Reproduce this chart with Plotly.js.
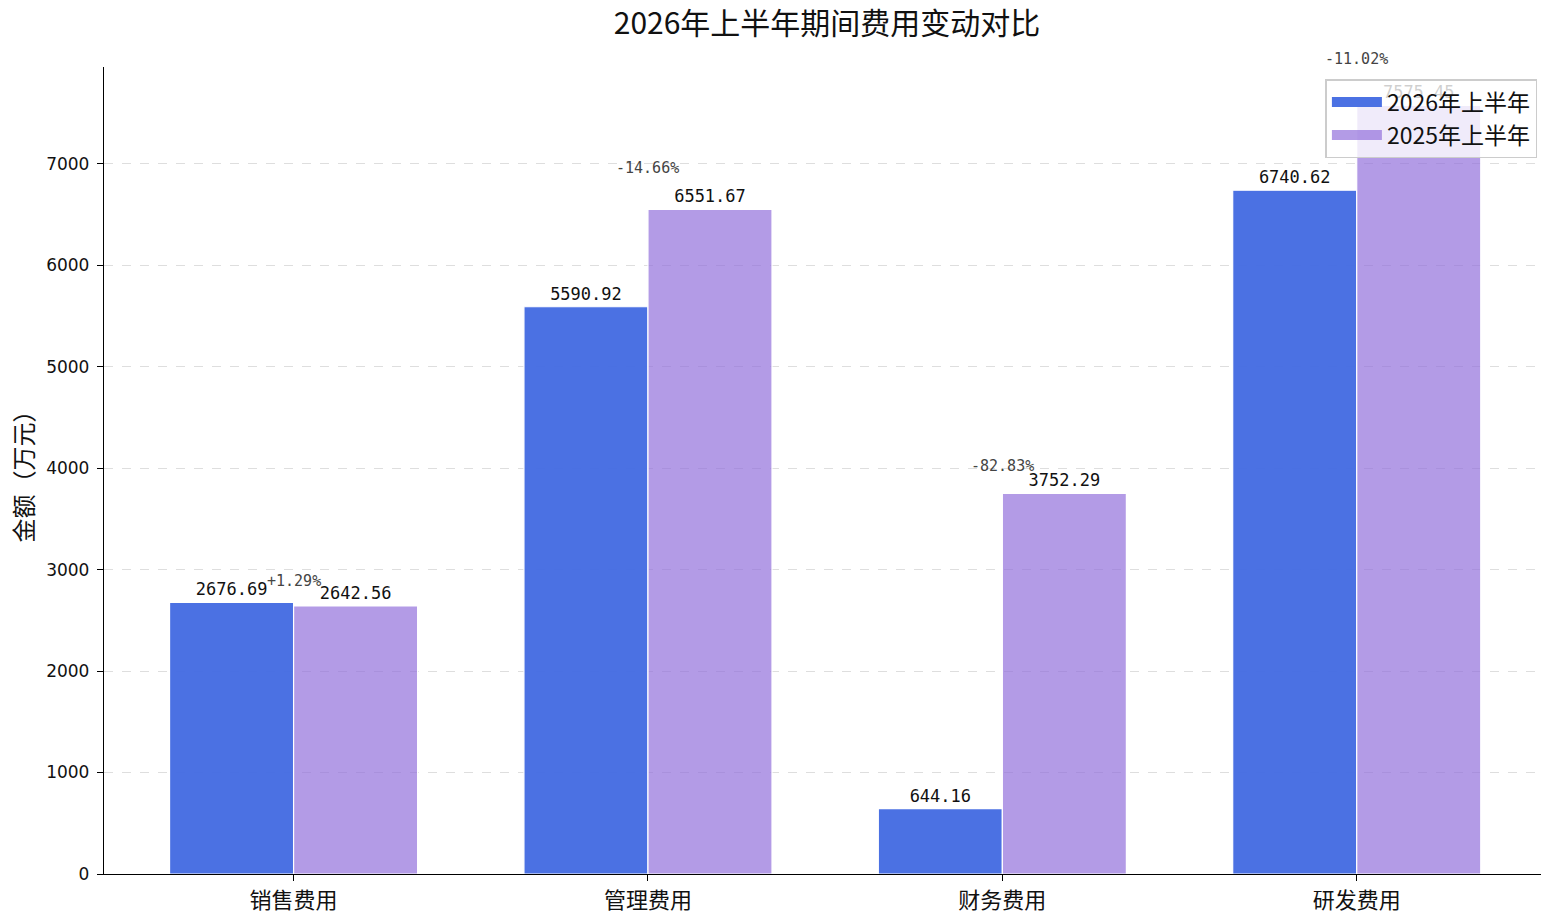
<!DOCTYPE html>
<html>
<head>
<meta charset="utf-8">
<script src="https://cdn.plot.ly/plotly-3.0.1.min.js"></script>
<style>
  html, body { margin: 0; padding: 0; background: #fff; }
  #plot { width: 1543px; height: 921px; }
</style>
</head>
<body>
<div id="plot"></div>
<script>
// categories and values (万元)
var categories = ["销售费用", "管理费用", "财务费用", "研发费用"];
var h1_2026 = [2676.69, 5590.92, 644.16, 6740.62];
var h1_2025 = [2642.56, 6551.67, 3752.29, 7575.45];
var seriesNames = ["2026年上半年", "2025年上半年"];
var colors = ["rgba(65,105,225,0.95)", "rgba(147,112,219,0.7)"];

var cjk = '"Noto Sans CJK SC", "DejaVu Sans", sans-serif';
var num = '"DejaVu Sans", sans-serif';
var mono = '"DejaVu Sans Mono", "Liberation Mono", monospace';

var xs = categories.map((c, i) => i);

function barTrace(vals, i) {
    return {
        x: xs,
        y: vals,
        name: seriesNames[i],
        type: "bar",
        showlegend: false,
        marker: {color: colors[i], line: {color: "white", width: 1.2}},
        text: vals.map(v => v.toFixed(2)),
        textposition: "outside",
        cliponaxis: false,
        constraintext: "none",
        textfont: {family: mono, size: 17, color: "#111"},
        hoverinfo: "skip"
    };
}

// legend entries drawn as wide patches
function legendTrace(i) {
    return {
        x: [null],
        y: [null],
        name: seriesNames[i],
        type: "scatter",
        mode: "lines",
        line: {color: colors[i], width: 15},
        hoverinfo: "skip"
    };
}

var traces = [barTrace(h1_2026, 0), barTrace(h1_2025, 1), legendTrace(0), legendTrace(1)];

// change labels above each pair
var ymax = Math.max(...h1_2025, ...h1_2026) * 1.05;
var annotations = categories.map((c, i) => {
    var pct = (h1_2026[i] - h1_2025[i]) / h1_2025[i] * 100;
    var top = Math.max(h1_2026[i], h1_2025[i]);
    return {
        x: i,
        y: top * 1.05,
        xref: "x",
        yref: "y",
        text: (pct >= 0 ? "+" : "") + pct.toFixed(2) + "%",
        showarrow: false,
        yanchor: "bottom",
        yshift: -3,
        font: {family: mono, size: 15, color: "#444"}
    };
});

var layout = {
    width: 1543,
    height: 921,
    margin: {l: 104, r: 2, t: 67, b: 47},
    paper_bgcolor: "white",
    plot_bgcolor: "white",
    barmode: "group",
    bargap: 0.3,
    bargroupgap: 0,
    title: {
        text: "2026年上半年期间费用变动对比",
        font: {family: cjk, size: 30, color: "#111"},
        x: 0.536,
        xanchor: "center",
        y: 0.974,
        yanchor: "middle"
    },
    xaxis: {
        range: [-0.535, 3.52],
        tickvals: xs,
        ticktext: categories,
        tickfont: {family: cjk, size: 22, color: "#111"},
        ticks: "outside",
        ticklen: 6,
        tickcolor: "black",
        showline: true,
        linecolor: "black",
        linewidth: 1.3,
        showgrid: false,
        zeroline: false
    },
    yaxis: {
        range: [0, ymax],
        tickvals: [0, 1000, 2000, 3000, 4000, 5000, 6000, 7000],
        tickfont: {family: num, size: 17, color: "#111"},
        ticks: "outside",
        ticklen: 6,
        tickcolor: "black",
        ticklabelstandoff: 4,
        showline: true,
        linecolor: "black",
        linewidth: 1.3,
        showgrid: true,
        gridcolor: "rgba(190,190,190,0.5)",
        griddash: "dash",
        gridwidth: 1,
        zeroline: false,
        title: {text: "金额（万元）", font: {family: cjk, size: 24, color: "#111"}, standoff: 5}
    },
    legend: {
        x: 0.9975,
        xanchor: "right",
        y: 0.985,
        yanchor: "top",
        bgcolor: "rgba(255,255,255,0.8)",
        bordercolor: "#ccc",
        borderwidth: 1.5,
        font: {family: cjk, size: 23, color: "#111"},
        traceorder: "normal",
        itemwidth: 50
    },
    annotations: annotations,
    showlegend: true
};

Plotly.newPlot("plot", traces, layout, {displayModeBar: false});
</script>
</body>
</html>
